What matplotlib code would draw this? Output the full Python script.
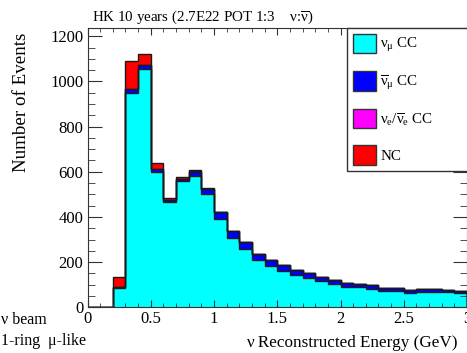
import matplotlib
matplotlib.use('Agg')
import matplotlib.pyplot as plt
import numpy as np
from matplotlib.patches import Patch
from matplotlib.ticker import MultipleLocator, FuncFormatter

plt.rcParams['font.family'] = 'Liberation Serif'
plt.rcParams['mathtext.fontset'] = 'custom'
plt.rcParams['mathtext.rm'] = 'Liberation Serif'
plt.rcParams['mathtext.it'] = 'Liberation Serif:italic'

# 30 bins of 0.1 GeV from 0 to 3 GeV
edges = np.linspace(0, 3, 31)
numu_cc = [0, 0, 87, 949, 1057, 601, 465, 559, 583, 503,
           393, 308, 260, 209, 183, 162, 143, 131, 118, 102,
           91, 90, 83, 72, 74, 65, 69, 69, 66, 63]
numubar_cc = [0, 0, 1, 16, 16, 10, 8, 10, 18, 22,
              27, 30, 31, 27, 26, 25, 22, 22, 18, 19,
              17, 15, 14, 15, 13, 10, 13, 13, 9, 10]
nue_cc = [0, 0, 0, 1, 1, 1, 1, 1, 1, 1,
          1, 0, 0, 0, 0, 0, 0, 0, 0, 0,
          0, 0, 0, 0, 0, 0, 0, 0, 0, 0]
nc = [0, 0, 45, 123, 49, 26, 9, 6, 6, 1,
      0, 0, 0, 0, 0, 0, 0, 0, 0, 0,
      0, 0, 0, 0, 0, 0, 0, 0, 0, 0]
labels = [r'$\mathrm{\nu_\mu}$ CC', r'$\mathrm{\overline{\nu}_\mu}$ CC',
          r'$\mathrm{\nu_e/\overline{\nu}_e}$ CC', 'NC']
colors = ['#00ffff', '#0000ff', '#ff00ff', '#ff0000']
line_col = '#1a1a1a'

fig = plt.figure(figsize=(4.67, 3.53), dpi=100)
ax = fig.add_axes([0.1874, 0.1295, 0.8126, 0.792])

bottom = np.zeros(len(numu_cc))
tops = []
for vals, c in zip([numu_cc, numubar_cc, nue_cc, nc], colors):
    top = bottom + np.array(vals)
    ax.stairs(top, edges, baseline=bottom, fill=True, color=c, lw=0)
    tops.append(top)
    bottom = top
for top in tops:
    ax.stairs(top, edges, baseline=0, color=line_col, lw=1.0)

ax.set_xlim(0, 3)
ax.set_ylim(0, 1238)
ax.xaxis.set_major_locator(MultipleLocator(0.5))
ax.xaxis.set_minor_locator(MultipleLocator(0.1))
ax.yaxis.set_major_locator(MultipleLocator(200))
ax.yaxis.set_minor_locator(MultipleLocator(50))
ax.xaxis.set_major_formatter(FuncFormatter(lambda v, p: '%g' % v))
ax.tick_params(which='both', direction='in', top=True, right=True,
               colors='#333333', labelcolor='black', labelsize=12)
ax.tick_params(axis='y', which='major', length=10, pad=3)
ax.tick_params(axis='y', which='minor', length=5)
ax.tick_params(axis='x', which='major', length=5, pad=3)
ax.tick_params(axis='x', which='minor', length=3)
for s in ax.spines.values():
    s.set_color('#333333')

handles = [Patch(facecolor=c, edgecolor='#333333', lw=1) for c in colors]
leg = ax.legend(handles, labels, loc='upper left',
                bbox_to_anchor=(0.684, 0.4946, 0.4, 0.5054), mode='expand',
                fancybox=False, framealpha=1, edgecolor='#333333',
                borderaxespad=0, fontsize=10.8, handlelength=1.5,
                handleheight=1.62, labelspacing=1.12, handletextpad=0.3,
                borderpad=0.4)
leg.get_frame().set_linewidth(1.0)

fig.text(92 / 467, 1 - 21 / 353, 'HK 10 years (2.7E22 POT 1:3    ν:' + r'$\mathrm{\overline{\nu}}$)',
         fontsize=10.8, va='baseline', ha='left')
fig.text(458 / 467, 1 - 346.7 / 353, 'ν Reconstructed Energy (GeV)',
         fontsize=12.3, va='baseline', ha='right')
fig.text(22 / 467, 1 - 33 / 353, 'Number of Events', fontsize=13.7,
         rotation=90, va='top', ha='center')
fig.text(1 / 467, 1 - 320 / 353, 'ν beam', fontsize=11.5, va='center', ha='left')
fig.text(1 / 467, 1 - 341 / 353, '1-ring  μ-like', fontsize=11.5, va='center', ha='left')

fig.savefig('out.png', dpi=100)
